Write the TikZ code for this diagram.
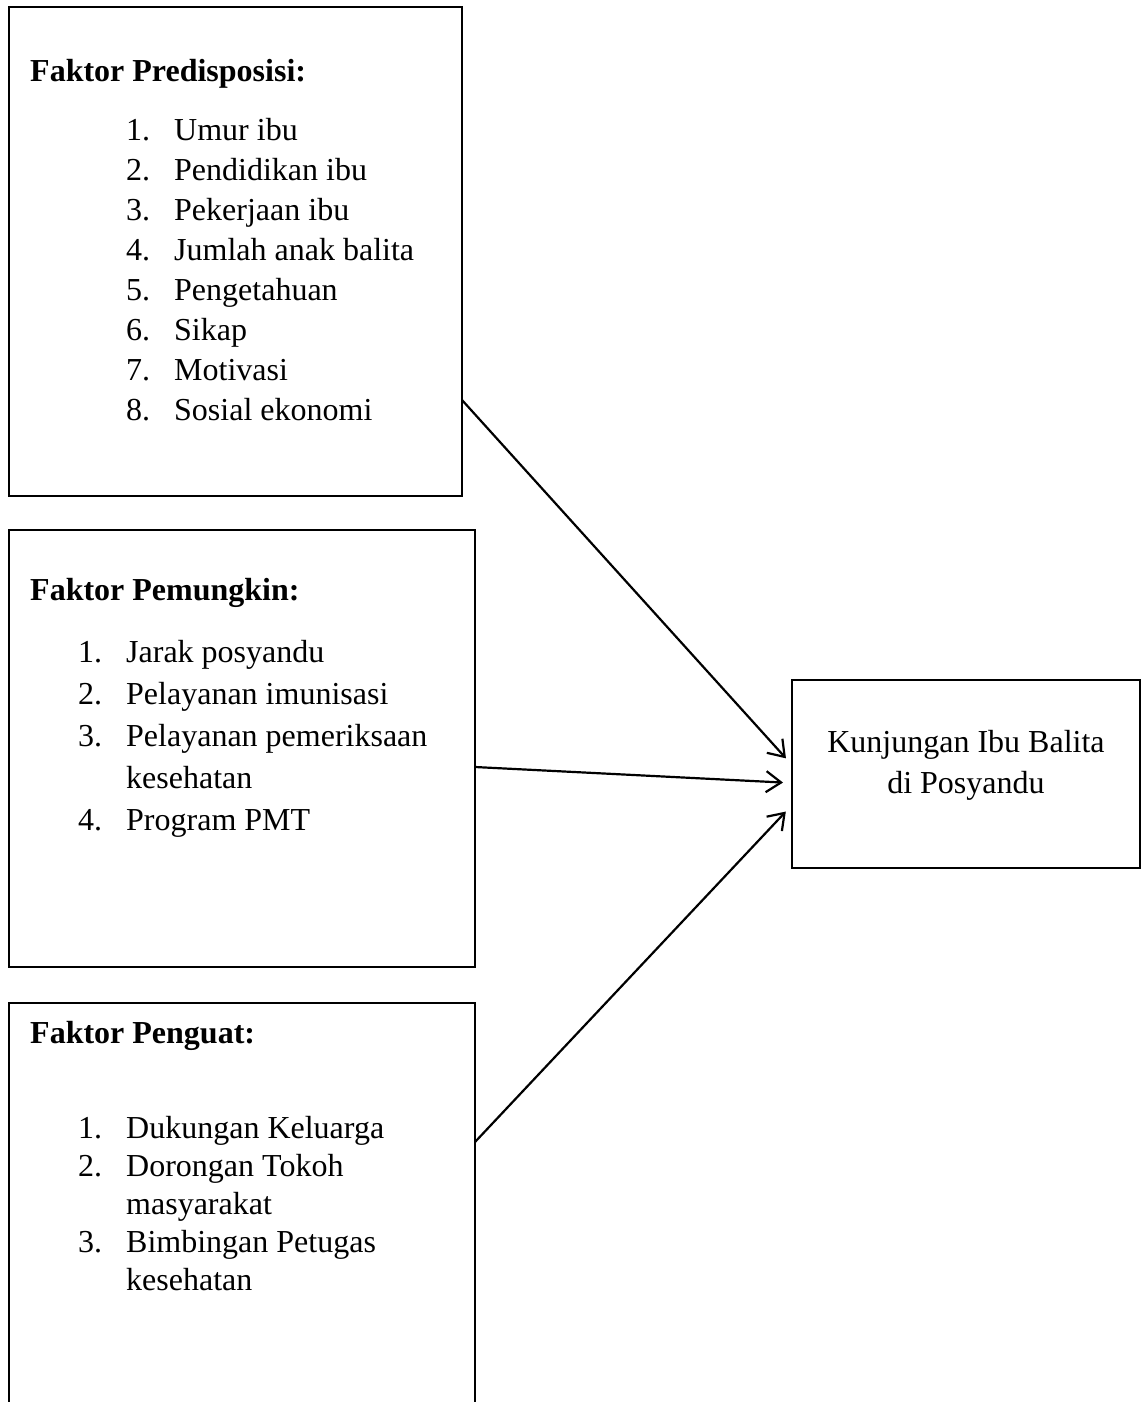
\documentclass[tikz,border=0pt]{standalone}
\usepackage{fontspec}
\setmainfont{Liberation Serif}
\usetikzlibrary{positioning,arrows.meta}
\tikzset{
factorbox/.style={draw, line width=2.4pt, anchor=north west, inner sep=0pt, outer sep=0pt},
heading/.style={anchor=base west, inner sep=0pt, font=\fontsize{32}{40}\selectfont\bfseries},
itemlist/.style={anchor=base west, inner sep=0pt, font=\fontsize{32}{#1}\selectfont},
itemlist/.default=40,
link/.style={-{Straight Barb[length=15pt,width=21pt]}, line width=2.2pt, shorten >=9pt}
}

\begin{document}
\begin{tikzpicture}[x=1pt, y=-1pt]
  \useasboundingbox (0,0) rectangle (1142,1402);
  \clip (0,0) rectangle (1142,1402);
  % boxes
  \node[factorbox, minimum width=453pt, minimum height=489pt] (pre) at (9,7) {};
  \node[factorbox, minimum width=466pt, minimum height=437pt] (ena) at (9,530) {};
  \node[factorbox, minimum width=466pt, minimum height=600pt] (rei) at (9,1003) {};
  \node[factorbox, minimum width=348pt, minimum height=188pt] (goal) at (792,680) {};
  % Faktor Predisposisi
  \node[heading] (pre head) at ([xshift=21pt,yshift=-75pt]pre.north west) {Faktor Predisposisi:};
  \node[itemlist=40] (pre list) at ([xshift=117pt,yshift=-133pt]pre.north west) {%
    \begin{tabular}[t]{@{}p{48pt}@{}l@{}}
      1. & Umur ibu\\
      2. & Pendidikan ibu\\
      3. & Pekerjaan ibu\\
      4. & Jumlah anak balita\\
      5. & Pengetahuan\\
      6. & Sikap\\
      7. & Motivasi\\
      8. & Sosial ekonomi
    \end{tabular}};
  % Faktor Pemungkin
  \node[heading] (ena head) at ([xshift=21pt,yshift=-70pt]ena.north west) {Faktor Pemungkin:};
  \node[itemlist=42] (ena list) at ([xshift=69pt,yshift=-132pt]ena.north west) {%
    \begin{tabular}[t]{@{}p{48pt}@{}l@{}}
      1. & Jarak posyandu\\
      2. & Pelayanan imunisasi\\
      3. & Pelayanan pemeriksaan\\
         & kesehatan\\
      4. & Program PMT
    \end{tabular}};
  % Faktor Penguat
  \node[heading] (rei head) at ([xshift=21pt,yshift=-40pt]rei.north west) {Faktor Penguat:};
  \node[itemlist=38] (rei list) at ([xshift=69pt,yshift=-135pt]rei.north west) {%
    \begin{tabular}[t]{@{}p{48pt}@{}l@{}}
      1. & Dukungan Keluarga\\
      2. & Dorongan Tokoh\\
         & masyarakat\\
      3. & Bimbingan Petugas\\
         & kesehatan
    \end{tabular}};
  % Kunjungan
  \node[itemlist=41, anchor=base] (goal text) at ([yshift=-72pt]goal.north) {%
    \begin{tabular}[t]{@{}c@{}}
      Kunjungan Ibu Balita\\
      di Posyandu
    \end{tabular}};
  % arrows
  \draw[link] ([yshift=-148.5pt]pre.east) -- ([yshift=9pt]goal.west);
  \draw[link] ([yshift=-18.5pt]ena.east) -- ([yshift=-9pt]goal.west);
  \draw[link] ([yshift=-139pt]rei.north east) -- ([yshift=-31pt]goal.west);
\end{tikzpicture}
\end{document}
